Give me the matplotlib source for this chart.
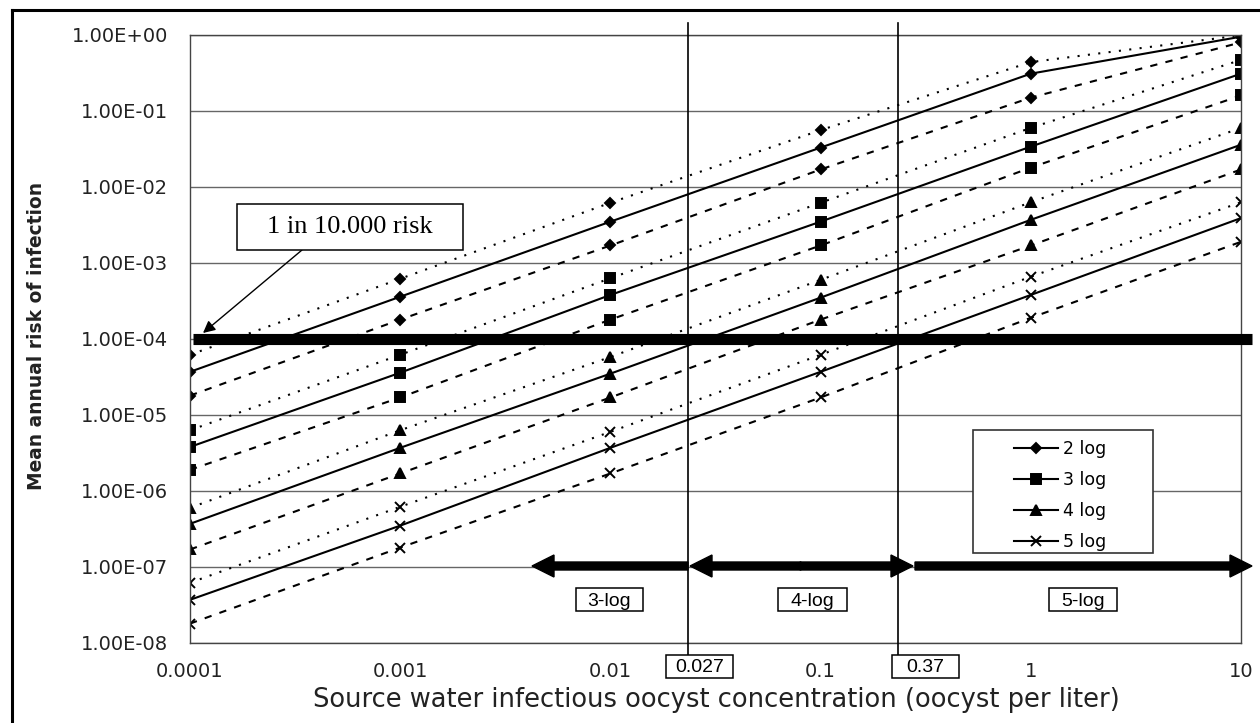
import matplotlib
matplotlib.use("Agg")
import matplotlib.pyplot as plt
from matplotlib.lines import Line2D
from matplotlib.patches import Rectangle, FancyArrow
from matplotlib.transforms import IdentityTransform

# ---------------- data ----------------
x_conc = [0.0001, 0.001, 0.01, 0.1, 1, 10]

log2_upper = [6.2e-5, 6.2e-4, 6.2e-3, 5.6e-2, 0.44, 0.99]
log2_mean = [3.7e-5, 3.6e-4, 3.5e-3, 3.3e-2, 0.31, 0.95]
log2_lower = [1.8e-5, 1.8e-4, 1.7e-3, 1.7e-2, 0.15, 0.80]

log3_upper = [6.3e-6, 6.2e-5, 6.3e-4, 6.2e-3, 6.0e-2, 0.47]
log3_mean = [3.8e-6, 3.6e-5, 3.8e-4, 3.5e-3, 3.4e-2, 0.31]
log3_lower = [1.9e-6, 1.7e-5, 1.8e-4, 1.7e-3, 1.8e-2, 0.16]

log4_upper = [6.0e-7, 6.3e-6, 5.8e-5, 6.0e-4, 6.3e-3, 6.0e-2]
log4_mean = [3.7e-7, 3.7e-6, 3.5e-5, 3.5e-4, 3.7e-3, 3.6e-2]
log4_lower = [1.7e-7, 1.7e-6, 1.7e-5, 1.8e-4, 1.7e-3, 1.7e-2]

log5_upper = [6.2e-8, 6.2e-7, 6.0e-6, 6.2e-5, 6.6e-4, 6.3e-3]
log5_mean = [3.7e-8, 3.5e-7, 3.7e-6, 3.7e-5, 3.8e-4, 3.9e-3]
log5_lower = [1.8e-8, 1.8e-7, 1.7e-6, 1.7e-5, 1.9e-4, 1.9e-3]

series_labels = ["2 log", "3 log", "4 log", "5 log"]
risk_threshold = 1e-4

x_ticks = [0.0001, 0.001, 0.01, 0.1, 1, 10]
x_tick_labels = ["0.0001", "0.001", "0.01", "0.1", "1", "10"]
y_ticks = [1e-8, 1e-7, 1e-6, 1e-5, 1e-4, 1e-3, 1e-2, 1e-1, 1e0]
y_tick_labels = ["1.00E-08", "1.00E-07", "1.00E-06", "1.00E-05", "1.00E-04",
                 "1.00E-03", "1.00E-02", "1.00E-01", "1.00E+00"]

break_labels = ["0.027", "0.37"]
zone_labels = ["3-log", "4-log", "5-log"]

# ---------------- figure ----------------
W, H = 1260, 723
fig = plt.figure(figsize=(W / 100, H / 100), dpi=100)
fig.patch.set_facecolor("white")


def fx(px):
    return px / W


def fy(py):
    return 1 - py / H


ax_l, ax_r, ax_t, ax_b = 190, 1241, 35, 643
ax = fig.add_axes([fx(ax_l), fy(ax_b), fx(ax_r - ax_l), (ax_b - ax_t) / H])
ax.set_xscale("log")
ax.set_yscale("log")
ax.set_xlim(1e-4, 10)
ax.set_ylim(1e-8, 1)

ax.set_yticks(y_ticks)
ax.set_yticklabels(y_tick_labels)
ax.set_xticks(x_ticks)
ax.set_xticklabels(x_tick_labels)
ax.minorticks_off()
ax.tick_params(axis="y", length=0, pad=16, labelsize=14, colors="#222222")
ax.tick_params(axis="x", length=0, pad=14, labelsize=14, colors="#222222")
for s in ax.spines.values():
    s.set_color("#444444")
    s.set_linewidth(1.0)
ax.yaxis.grid(True, color="#666666", linewidth=1.0)
ax.set_axisbelow(True)

styles = {
    "upper": dict(linestyle=(0, (1, 4)), linewidth=1.5),
    "mean": dict(linestyle="-", linewidth=1.5),
    "lower": dict(linestyle=(0, (3.5, 4)), linewidth=1.5),
}
markers = [("D", 5), ("s", 6.5), ("^", 7), ("x", 7)]
groups = [
    (log2_upper, log2_mean, log2_lower),
    (log3_upper, log3_mean, log3_lower),
    (log4_upper, log4_mean, log4_lower),
    (log5_upper, log5_mean, log5_lower),
]
handles = []
for (up, mn, lo), (mk, ms), lab in zip(groups, markers, series_labels):
    for vals, key in ((up, "upper"), (mn, "mean"), (lo, "lower")):
        ln, = ax.plot(x_conc, vals, color="black", marker=mk, markersize=ms,
                      markeredgewidth=1.4, **styles[key])
        if key == "mean":
            handles.append(ln)

# 1 in 10,000 risk thick line
ax.plot([0.003, 1.0105], [risk_threshold, risk_threshold],
        transform=ax.get_yaxis_transform(), color="black", linewidth=8,
        solid_capstyle="butt", clip_on=False, zorder=5)

# vertical break lines
for px in (688, 898):
    xf = (px - ax_l) / (ax_r - ax_l)
    ax.plot([xf, xf], [(ax_b - 23) / (ax_b - ax_t), (ax_b - 655) / (ax_b - ax_t)],
            transform=ax.transAxes, color="black", linewidth=1.2, clip_on=False,
            zorder=6)


def boxed_text(x0, x1, y0, y1, text, size, family, va_off=0):
    fig.add_artist(Rectangle((fx(x0), fy(y1)), fx(x1 - x0), (y1 - y0) / H,
                             transform=fig.transFigure, facecolor="white",
                             edgecolor="black", linewidth=1.1, zorder=10))
    fig.text(fx((x0 + x1) / 2), fy((y0 + y1) / 2 + va_off), text, ha="center",
             va="center", fontsize=size, family=family, zorder=11)


boxed_text(666, 733, 655, 678, break_labels[0], 14, "Liberation Sans", 1)
boxed_text(892, 959, 655, 678, break_labels[1], 14, "Liberation Sans", 1)
boxed_text(576, 643, 588, 611, zone_labels[0], 14, "Liberation Sans", 2)
boxed_text(778, 847, 588, 611, zone_labels[1], 14, "Liberation Sans", 2)
boxed_text(1049, 1117, 588, 611, zone_labels[2], 14, "Liberation Sans", 2)

# horizontal arrows (pixel coordinates)
ya = H - 566
arrow_kw = dict(width=8, head_width=22, head_length=22, length_includes_head=True,
                color="black", transform=IdentityTransform(), zorder=7)
fig.add_artist(FancyArrow(688, ya, 532 - 688, 0, **arrow_kw))
fig.add_artist(FancyArrow(801, ya, 690 - 801, 0, **arrow_kw))
fig.add_artist(FancyArrow(800, ya, 913 - 800, 0, **arrow_kw))
fig.add_artist(FancyArrow(915, ya, 1252 - 915, 0, **arrow_kw))

# "1 in 10.000 risk" callout
boxed_text(237, 463, 204, 250, "1 in 10.000 risk", 19, "Liberation Serif")
ax.annotate("", xy=(203, H - 333), xycoords="figure pixels",
            xytext=(302, H - 250), textcoords="figure pixels",
            arrowprops=dict(arrowstyle="-|>", color="black", lw=1.0,
                            mutation_scale=18, shrinkA=0, shrinkB=0),
            zorder=12)

# legend
fig.add_artist(Rectangle((fx(973), fy(553)), fx(180), 123 / H,
                         transform=fig.transFigure, facecolor="white",
                         edgecolor="#333333", linewidth=1.2, zorder=8))
leg = fig.legend(handles, series_labels, loc="upper left",
                 bbox_to_anchor=(fx(1002), fy(428)), frameon=False,
                 fontsize=12.5, handlelength=2.5, handletextpad=0.3,
                 labelspacing=0.75, borderpad=0.2)
leg.set_zorder(9)

# axis labels
fig.text(fx(37), fy(336), "Mean annual risk of infection", rotation=90,
         ha="center", va="center", fontsize=13.4, fontweight="bold",
         color="#222222")
fig.text(fx(716), fy(700), "Source water infectious oocyst concentration (oocyst per liter)",
         ha="center", va="center", fontsize=18.5, color="#222222")

# outer frame (left and top edges visible)
fig.add_artist(Line2D([fx(12), fx(12)], [fy(10), 0], transform=fig.transFigure,
                      color="black", linewidth=2.2))
fig.add_artist(Line2D([fx(12), 1], [fy(10), fy(10)], transform=fig.transFigure,
                      color="black", linewidth=2.2))

fig.savefig("out.png", dpi=100)
